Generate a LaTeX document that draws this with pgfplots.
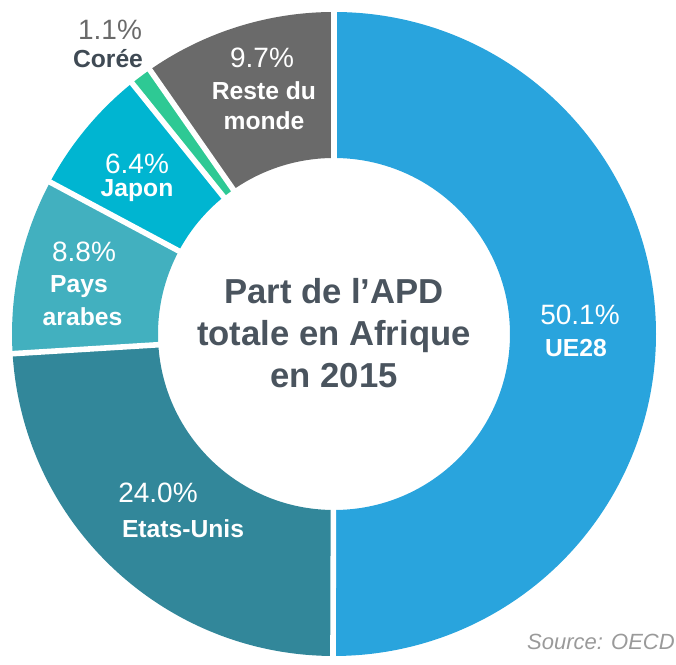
\documentclass[border=0pt]{standalone}
\usepackage{fontspec}
\setmainfont{Liberation Sans}
\usepackage{pgfplots}
\usepackage{pgfplotstable}
\pgfplotsset{compat=1.18}
\definecolor{cUE}{HTML}{29A4DD}
\definecolor{cUS}{HTML}{32879A}
\definecolor{cPA}{HTML}{42B0BF}
\definecolor{cJP}{HTML}{00B5D1}
\definecolor{cKR}{HTML}{2EC994}
\definecolor{cRM}{HTML}{6A6A6A}
\definecolor{ctitle}{HTML}{4A545E}
\definecolor{ckr}{HTML}{3F4A54}
\definecolor{csrc}{HTML}{9A9A9A}
\pgfplotstableread{
name val col
UE28 50.1 cUE
EtatsUnis 24.0 cUS
PaysArabes 8.8 cPA
Japon 6.4 cJP
Coree 1.1 cKR
Reste 9.7 cRM
}\data
\begin{document}
\begin{tikzpicture}[every node/.style={inner sep=0pt}, lb/.style={anchor=base}]
\begin{axis}[
  x=0.75pt, y=0.75pt,
  xmin=0, xmax=676, ymin=0, ymax=657,
  hide axis, clip=false,
  disabledatascaling,
]
\path (axis cs:0,0) rectangle (axis cs:676,657);
\def\cx{334}\def\cy{323}
\def\Rout{241.5pt}\def\Rin{132pt}
\pgfmathsetmacro{\tot}{100.1}
\pgfmathsetmacro{\cum}{0}
\pgfplotsforeachungrouped \i in {0,...,5}{%
  \pgfplotstablegetelem{\i}{val}\of\data \let\sv\pgfplotsretval
  \pgfplotstablegetelem{\i}{col}\of\data \let\sc\pgfplotsretval
  \pgfmathsetmacro{\sa}{90-(\cum/\tot)*360}%
  \pgfmathsetmacro{\sb}{90-((\cum+\sv)/\tot)*360}%
  \edef\temp{\noexpand\fill[\sc] ([shift={(\sa:\Rout)}]axis cs:\cx,\cy) arc[start angle=\sa, end angle=\sb, radius=\Rout] -- ([shift={(\sb:\Rin)}]axis cs:\cx,\cy) arc[start angle=\sb, end angle=\sa, radius=\Rin] -- cycle;}%
  \temp
  \pgfmathsetmacro{\cum}{\cum+\sv}%
}
\pgfmathsetmacro{\cum}{0}
\pgfplotsforeachungrouped \i in {0,...,5}{%
  \pgfplotstablegetelem{\i}{val}\of\data \let\sv\pgfplotsretval
  \pgfmathsetmacro{\sa}{90-(\cum/\tot)*360}%
  \edef\temp{\noexpand\draw[white, line width=4.2pt] ([shift={(\sa:125pt)}]axis cs:\cx,\cy) -- ([shift={(\sa:246pt)}]axis cs:\cx,\cy);}%
  \temp
  \pgfmathsetmacro{\cum}{\cum+\sv}%
}
% labels
\def\pc{\fontsize{21pt}{24pt}\selectfont}
\def\nm{\fontsize{18.5pt}{22pt}\selectfont\bfseries}
\node[white,lb] at (axis cs:580,657-325) {\pc 50.1\%};
\node[white,lb] at (axis cs:576,657-357) {\nm UE28};
\node[white,lb] at (axis cs:158,657-503) {\pc 24.0\%};
\node[white,lb] at (axis cs:183,657-538) {\nm Etats-Unis};
\node[white,lb] at (axis cs:84,657-262) {\pc 8.8\%};
\node[white,lb] at (axis cs:79,657-293) {\nm Pays};
\node[white,lb] at (axis cs:82.5,657-326) {\nm arabes};
\node[white,lb] at (axis cs:137,657-174) {\pc 6.4\%};
\node[white,lb] at (axis cs:137,657-197) {\nm Japon};
\node[cRM,lb] at (axis cs:110,657-40) {\pc 1.1\%};
\node[ckr,lb] at (axis cs:108,657-68) {\nm Corée};
\node[white,lb] at (axis cs:262,657-68) {\pc 9.7\%};
\node[white,lb] at (axis cs:264,657-100) {\nm Reste du};
\node[white,lb] at (axis cs:264,657-130) {\nm monde};
\node[ctitle, font=\fontsize{26pt}{31.5pt}\selectfont\bfseries, align=center] at (axis cs:334,657-333) {Part de l’APD\\totale en Afrique\\en 2015};
\node[csrc, anchor=east, font=\fontsize{16.5pt}{19pt}\selectfont\itshape] at (axis cs:675,657-642) {Source: OECD};
\end{axis}
\end{tikzpicture}
\end{document}
